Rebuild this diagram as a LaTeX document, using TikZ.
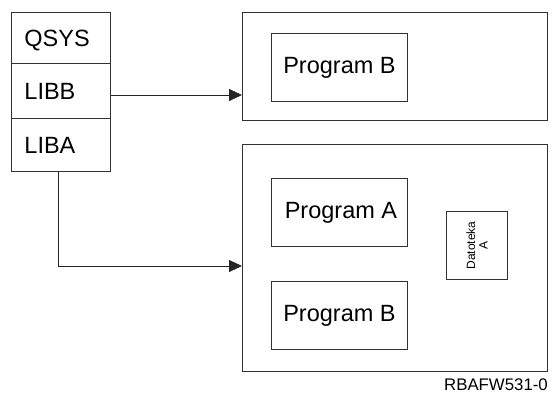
\documentclass[tikz,border=0pt]{standalone}
\usepackage{fontspec}
\setmainfont{Liberation Sans}
\usetikzlibrary{arrows.meta}
\begin{document}
\begin{tikzpicture}[x=1pt,y=-1pt,
  box/.style={draw=black!80,line width=0.9pt},
  big/.style={font=\fontsize{23.5}{26}\selectfont},
  lib/.style={box,big,minimum width=99pt,anchor=north west,inner xsep=13pt,text width=73pt,align=left,text depth=2pt},
  conn/.style={draw=black!85,line width=0.9pt,-{Triangle[length=13pt,width=12pt]}}]
\useasboundingbox (0,0) rectangle (552,395);
% library list
\node[lib,minimum height=51pt] (qsys) at (11,12) {\raisebox{-3pt}{QSYS}};
\node[lib,minimum height=55pt] (libb) at (11,63) {\raisebox{-3pt}{LIBB}};
\node[lib,minimum height=53pt] (liba) at (11,118) {\raisebox{-3pt}{LIBA}};
% top library box
\node[box,minimum width=305pt,minimum height=108pt,anchor=north west] (topbox) at (242,12) {};
\node[box,big,minimum width=136pt,minimum height=68pt,anchor=north west] (progbtop) at (271,33) {Program B};
% bottom library box
\node[box,minimum width=305pt,minimum height=227pt,anchor=north west] (botbox) at (242,144) {};
\node[box,big,minimum width=136pt,minimum height=68pt,anchor=north west] (proga) at (271,178) {\hspace{3pt}Program A};
\node[box,big,minimum width=136pt,minimum height=68pt,anchor=north west] (progb) at (271,281) {Program B};
\node[box,minimum width=61pt,minimum height=68pt,anchor=north west] (dat) at (446,211) {};
\node[rotate=90,align=center,font=\fontsize{12}{12.5}\selectfont] (dattext) at (dat.center) {Datoteka\\A};
% connectors
\coordinate (bend) at (58,266);
\draw[conn] (libb.east |- 0,95) -- (topbox.west |- 0,95);
\draw[conn] (liba.south -| bend) -- (bend) -- (botbox.west |- bend);
% label
\node[anchor=east,font=\fontsize{16.8}{18}\selectfont,inner sep=0pt] (lbl) at (548,385) {RBAFW531-0};
\end{tikzpicture}
\end{document}
